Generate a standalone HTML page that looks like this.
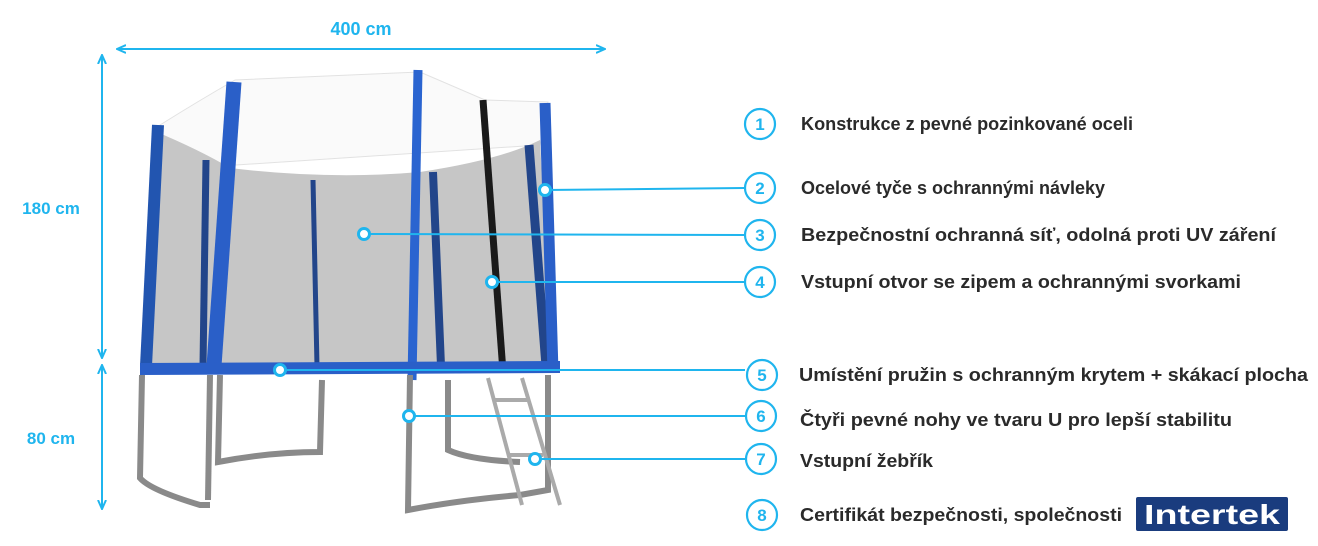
<!DOCTYPE html>
<html><head><meta charset="utf-8"><style>
html,body{margin:0;padding:0;background:#fff;}
svg{display:block;}
text{font-family:"Liberation Sans",sans-serif;font-weight:bold;}
</style></head><body>
<svg width="1318" height="546" viewBox="0 0 1318 546" xmlns="http://www.w3.org/2000/svg">
<defs>
<marker id="ah" markerWidth="10" markerHeight="10" refX="8" refY="5" orient="auto-start-reverse" markerUnits="userSpaceOnUse">
<path d="M0,1 L9,5 L0,9" fill="none" stroke="#1fb5ee" stroke-width="2"/>
</marker>
</defs>
<line x1="118" y1="49" x2="604" y2="49" stroke="#1fb5ee" stroke-width="2" marker-start="url(#ah)" marker-end="url(#ah)"/>
<text x="361" y="35" font-size="18" fill="#1fb5ee" text-anchor="middle">400 cm</text>
<line x1="102" y1="56" x2="102" y2="357" stroke="#1fb5ee" stroke-width="2" marker-start="url(#ah)" marker-end="url(#ah)"/>
<line x1="102" y1="366" x2="102" y2="508" stroke="#1fb5ee" stroke-width="2" marker-start="url(#ah)" marker-end="url(#ah)"/>
<text x="51" y="214" font-size="17" fill="#1fb5ee" text-anchor="middle">180 cm</text>
<text x="51" y="444" font-size="17" fill="#1fb5ee" text-anchor="middle">80 cm</text>

<path d="M160,125 Q200,100 235,80 L420,72 L485,100 L548,102 L540,145 L160,170 Z" fill="#fafafa" stroke="#e2e2e2" stroke-width="1"/>
<path d="M152,130 Q200,150 230,168 Q330,180 420,172 Q500,160 540,140 L552,365 L145,365 Z" fill="#c6c6c6"/>
<g stroke-linecap="butt">
<line x1="158" y1="125" x2="146" y2="366" stroke="#2255b0" stroke-width="12"/>
<line x1="206" y1="160" x2="203" y2="366" stroke="#22458a" stroke-width="7"/>
<line x1="313" y1="180" x2="317" y2="366" stroke="#22458a" stroke-width="5"/>
<line x1="234" y1="82" x2="214" y2="366" stroke="#2a5fc8" stroke-width="15"/>
<line x1="433" y1="172" x2="441" y2="366" stroke="#22458a" stroke-width="8"/>
<line x1="483" y1="100" x2="503" y2="372" stroke="#1a1a1a" stroke-width="7"/>
<line x1="529" y1="145" x2="546" y2="366" stroke="#22458a" stroke-width="9"/>
<line x1="545" y1="103" x2="553" y2="372" stroke="#2a5fc8" stroke-width="11"/>
<line x1="418" y1="70" x2="412" y2="380" stroke="#2a64d0" stroke-width="9"/>
</g>
<g fill="none" stroke="#8a8a8a" stroke-width="6">
<path d="M142,375 L140,478 Q150,490 200,505 L210,505"/>
<path d="M210,375 L208,500"/>
<path d="M220,375 L218,462 Q270,452 320,452 L322,380"/>
<path d="M410,375 L408,510 Q460,500 520,495 L548,490 L548,375"/>
<path d="M448,380 L448,450 Q470,460 520,462"/>
</g>
<g stroke="#aaa" stroke-width="4">
<line x1="488" y1="378" x2="522" y2="505"/>
<line x1="522" y1="378" x2="560" y2="505"/>
<line x1="493" y1="400" x2="528" y2="400"/>
<line x1="507" y1="455" x2="543" y2="455"/>
</g>
<path d="M140,363 L560,361 L560,373 L140,375 Z" fill="#2a5fc8"/>
<g stroke="#1fb5ee" stroke-width="2">
<line x1="545" y1="190" x2="744" y2="188"/>
<line x1="364" y1="234" x2="744" y2="235"/>
<line x1="492" y1="282" x2="744" y2="282"/>
<line x1="280" y1="370" x2="745" y2="370"/>
<line x1="409" y1="416" x2="745" y2="416"/>
<line x1="535" y1="459" x2="745" y2="459"/>
</g>
<g fill="#fff" stroke="#1fb5ee" stroke-width="3">
<circle cx="545" cy="190" r="5.5"/><circle cx="364" cy="234" r="5.5"/><circle cx="492" cy="282" r="5.5"/>
<circle cx="280" cy="370" r="5.5"/><circle cx="409" cy="416" r="5.5"/><circle cx="535" cy="459" r="5.5"/>
</g>
<g fill="#fff" stroke="#1fb5ee" stroke-width="2.2">
<circle cx="760" cy="124" r="15"/><circle cx="760" cy="188" r="15"/><circle cx="760" cy="235" r="15"/>
<circle cx="760" cy="282" r="15"/><circle cx="762" cy="375" r="15"/><circle cx="761" cy="416" r="15"/>
<circle cx="761" cy="459" r="15"/><circle cx="762" cy="515" r="15"/>
</g>
<g fill="#1fb5ee" font-size="17" text-anchor="middle">
<text x="760" y="130">1</text><text x="760" y="194">2</text><text x="760" y="241">3</text>
<text x="760" y="288">4</text><text x="762" y="381">5</text><text x="761" y="422">6</text>
<text x="761" y="465">7</text><text x="762" y="521">8</text>
</g>
<g fill="#2a2a2a" font-size="18">
<text x="801" y="130" textLength="332" lengthAdjust="spacingAndGlyphs">Konstrukce z pevné pozinkované oceli</text>
<text x="801" y="194" textLength="304" lengthAdjust="spacingAndGlyphs">Ocelové tyče s ochrannými návleky</text>
<text x="801" y="241" textLength="475" lengthAdjust="spacingAndGlyphs">Bezpečnostní ochranná síť, odolná proti UV záření</text>
<text x="801" y="288" textLength="440" lengthAdjust="spacingAndGlyphs">Vstupní otvor se zipem a ochrannými svorkami</text>
<text x="799" y="381" textLength="509" lengthAdjust="spacingAndGlyphs">Umístění pružin s ochranným krytem + skákací plocha</text>
<text x="800" y="426" textLength="432" lengthAdjust="spacingAndGlyphs">Čtyři pevné nohy ve tvaru U pro lepší stabilitu</text>
<text x="800" y="467" textLength="133" lengthAdjust="spacingAndGlyphs">Vstupní žebřík</text>
<text x="800" y="521" textLength="322" lengthAdjust="spacingAndGlyphs">Certifikát bezpečnosti, společnosti</text>
</g>
<rect x="1136" y="497" width="152" height="34" rx="2" fill="#1a3c7e"/>
<text x="1212" y="524" font-size="28" fill="#fff" text-anchor="middle" textLength="136" lengthAdjust="spacingAndGlyphs">Intertek</text>
</svg>
</body></html>
